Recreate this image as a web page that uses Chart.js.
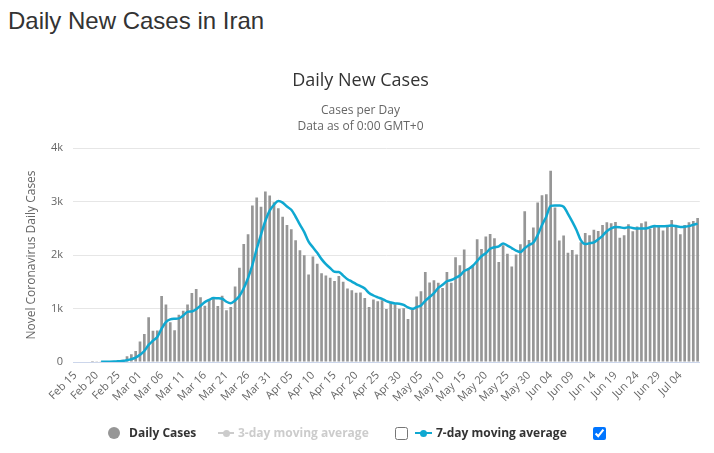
<!DOCTYPE html>
<html><head><meta charset="utf-8">
<script src="https://cdn.jsdelivr.net/npm/chart.js@4.4.1/dist/chart.umd.min.js"></script>
<style>
html,body{margin:0;padding:0;background:#fff;width:714px;height:453px;overflow:hidden;position:relative}
#hdr{position:absolute;left:8px;top:7px;margin:0;font:normal 24px 'Liberation Sans',Arial,sans-serif;color:#333;white-space:nowrap;line-height:normal}
#wrap{position:absolute;left:0;top:0;width:714px;height:453px}
.lg{position:absolute;font:bold 12px 'Open Sans',sans-serif;color:#333;white-space:nowrap;line-height:16px;top:425px}
.sym{position:absolute}
input.cb{position:absolute;margin:0;width:13px;height:13px;top:427px}
</style></head>
<body>
<h1 id="hdr">Daily New Cases in Iran</h1>
<div id="wrap"><canvas id="c" width="714" height="453"></canvas></div>
<div class="sym" style="left:108px;top:427px;width:12px;height:12px;border-radius:6px;background:#969696"></div>
<div class="lg" style="left:129px">Daily Cases</div>
<div class="sym" style="left:218px;top:432px;width:16px;height:2px;background:#cccccc"></div>
<div class="sym" style="left:223px;top:430px;width:7px;height:7px;border-radius:4px;background:#cccccc"></div>
<div class="lg" style="left:238px;color:#cccccc">3-day moving average</div>
<input class="cb" type="checkbox" style="left:395px">
<div class="sym" style="left:415px;top:432px;width:17px;height:2px;background:#0FA8D1"></div>
<div class="sym" style="left:420px;top:430px;width:7px;height:7px;border-radius:4px;background:#0FA8D1"></div>
<div class="lg" style="left:436px">7-day moving average</div>
<input class="cb" type="checkbox" checked style="left:593px">
<script>
const categories = [
 'Feb 15','Feb 16','Feb 17','Feb 18','Feb 19','Feb 20','Feb 21','Feb 22','Feb 23','Feb 24','Feb 25','Feb 26','Feb 27','Feb 28','Feb 29',
 'Mar 01','Mar 02','Mar 03','Mar 04','Mar 05','Mar 06','Mar 07','Mar 08','Mar 09','Mar 10','Mar 11','Mar 12','Mar 13','Mar 14','Mar 15','Mar 16','Mar 17','Mar 18','Mar 19','Mar 20','Mar 21','Mar 22','Mar 23','Mar 24','Mar 25','Mar 26','Mar 27','Mar 28','Mar 29','Mar 30','Mar 31',
 'Apr 01','Apr 02','Apr 03','Apr 04','Apr 05','Apr 06','Apr 07','Apr 08','Apr 09','Apr 10','Apr 11','Apr 12','Apr 13','Apr 14','Apr 15','Apr 16','Apr 17','Apr 18','Apr 19','Apr 20','Apr 21','Apr 22','Apr 23','Apr 24','Apr 25','Apr 26','Apr 27','Apr 28','Apr 29','Apr 30',
 'May 01','May 02','May 03','May 04','May 05','May 06','May 07','May 08','May 09','May 10','May 11','May 12','May 13','May 14','May 15','May 16','May 17','May 18','May 19','May 20','May 21','May 22','May 23','May 24','May 25','May 26','May 27','May 28','May 29','May 30','May 31',
 'Jun 01','Jun 02','Jun 03','Jun 04','Jun 05','Jun 06','Jun 07','Jun 08','Jun 09','Jun 10','Jun 11','Jun 12','Jun 13','Jun 14','Jun 15','Jun 16','Jun 17','Jun 18','Jun 19','Jun 20','Jun 21','Jun 22','Jun 23','Jun 24','Jun 25','Jun 26','Jun 27','Jun 28','Jun 29','Jun 30',
 'Jul 01','Jul 02','Jul 03','Jul 04','Jul 05','Jul 06','Jul 07','Jul 08'];

const dailyCases = [
 0,0,0,0,2,3,13,10,15,18,34,44,106,143,205,
 385,523,835,586,591,1234,1076,743,595,881,958,1075,1289,1365,1209,1053,1178,1192,1046,1237,966,1028,1411,1762,2206,2389,2926,3076,2901,3186,3110,
 2987,2875,2715,2560,2483,2274,2089,1997,1634,1972,1837,1657,1617,1574,1512,1606,1499,1374,1343,1294,1297,1194,1030,1168,1134,1153,991,1112,1073,993,
 1006,802,976,1223,1323,1680,1485,1529,1480,1383,1683,1481,1958,1808,2102,1757,1806,2294,2111,2346,2392,2311,1869,2180,2023,1787,2011,2200,2819,2282,2516,
 2979,3117,3134,3574,2886,2269,2364,2043,2095,2011,2238,2410,2369,2472,2449,2563,2612,2595,2615,2322,2368,2573,2445,2531,2595,2628,2489,2536,2536,2457,
 2549,2652,2560,2388,2560,2613,2637,2691];

const movingAvg7 = [
 null,null,null,null,null,null,3,4,6,9,14,20,34,53,81,
 134,206,320,398,467,623,747,798,809,815,868,937,945,987,1053,1119,1161,1194,1190,1183,1126,1100,1151,1235,1379,1571,1813,2114,2382,2635,2828,
 2939,3009,2979,2905,2845,2715,2569,2428,2250,2144,2041,1923,1829,1755,1686,1682,1615,1548,1504,1457,1418,1372,1290,1243,1209,1181,1138,1112,1094,1089,
 1066,1019,993,1026,1057,1143,1214,1288,1385,1443,1509,1532,1571,1617,1699,1739,1799,1887,1977,2032,2115,2145,2161,2215,2176,2130,2082,2054,2127,2186,2234,
 2371,2561,2721,2917,2927,2925,2903,2770,2624,2463,2272,2204,2219,2234,2292,2359,2445,2496,2525,2518,2503,2521,2504,2493,2493,2495,2518,2542,2537,2539,
 2541,2550,2540,2525,2529,2540,2566,2586];

const xTickLabels = ['Feb 15','Feb 20','Feb 25','Mar 01','Mar 06','Mar 11','Mar 16','Mar 21','Mar 26','Mar 31',
 'Apr 05','Apr 10','Apr 15','Apr 20','Apr 25','Apr 30','May 05','May 10','May 15','May 20','May 25','May 30',
 'Jun 04','Jun 09','Jun 14','Jun 19','Jun 24','Jun 29','Jul 04'];
const yTickValues = [0, 1000, 2000, 3000, 4000];
const yTickLabels = ['0', '1k', '2k', '3k', '4k'];

const FONT = "'Open Sans', sans-serif";

new Chart(document.getElementById('c'), {
  type: 'bar',
  data: {
    labels: categories,
    datasets: [
      { type: 'line', label: '7-day moving average', data: movingAvg7, borderColor: '#0FA8D1', borderWidth: 2.5,
        pointRadius: 0, cubicInterpolationMode: 'monotone', fill: false, order: 0, spanGaps: false },
      { type: 'bar', label: 'Daily Cases', data: dailyCases, backgroundColor: '#969696',
        barPercentage: 0.62, categoryPercentage: 1.0, order: 1 }
    ]
  },
  options: {
    responsive: false, animation: false, devicePixelRatio: 1,
    layout: { padding: { left: 20, right: 13, top: 0, bottom: 41 } },
    plugins: {
      legend: { display: false }, tooltip: { enabled: false },
      title: { display: true, text: 'Daily New Cases', color: '#333333',
        font: { family: FONT, size: 18, weight: 'normal' }, padding: { top: 70, bottom: 0 } },
      subtitle: { display: true, text: ['Cases per Day', 'Data as of 0:00 GMT+0'], color: '#666666',
        font: { family: FONT, size: 12, weight: 'normal', lineHeight: 16/12 }, padding: { top: 11, bottom: 13.4 } }
    },
    scales: {
      x: {
        grid: { display: false, drawTicks: false },
        border: { display: true, color: '#ccd6eb', width: 1 },
        ticks: { autoSkip: false, minRotation: 45, maxRotation: 45, color: '#666666', padding: 7,
          font: { family: FONT, size: 11 },
          callback: function (v, i) { const c = categories[i]; return xTickLabels.includes(c) ? c : ''; } },
        afterFit: function (s) { s.height = 50; }
      },
      y: {
        min: 0, max: 4000,
        afterBuildTicks: function (s) { s.ticks = yTickValues.map(v => ({ value: v })); },
        grid: { color: c => (c.tick && c.tick.value === 0) ? 'rgba(0,0,0,0)' : '#e6e6e6', drawTicks: false, lineWidth: 1 },
        border: { display: false },
        ticks: { color: '#666666', padding: 10, font: { family: FONT, size: 11 },
          callback: function (v) { const k = yTickValues.indexOf(v); return k >= 0 ? yTickLabels[k] : ''; } },
        title: { display: true, text: 'Novel Coronavirus Daily Cases', color: '#666666',
          font: { family: FONT, size: 12 }, padding: { top: 4, bottom: 4 } },
        afterFit: function (s) { s.width = 53; }
      }
    }
  }
});
</script>
</body></html>
